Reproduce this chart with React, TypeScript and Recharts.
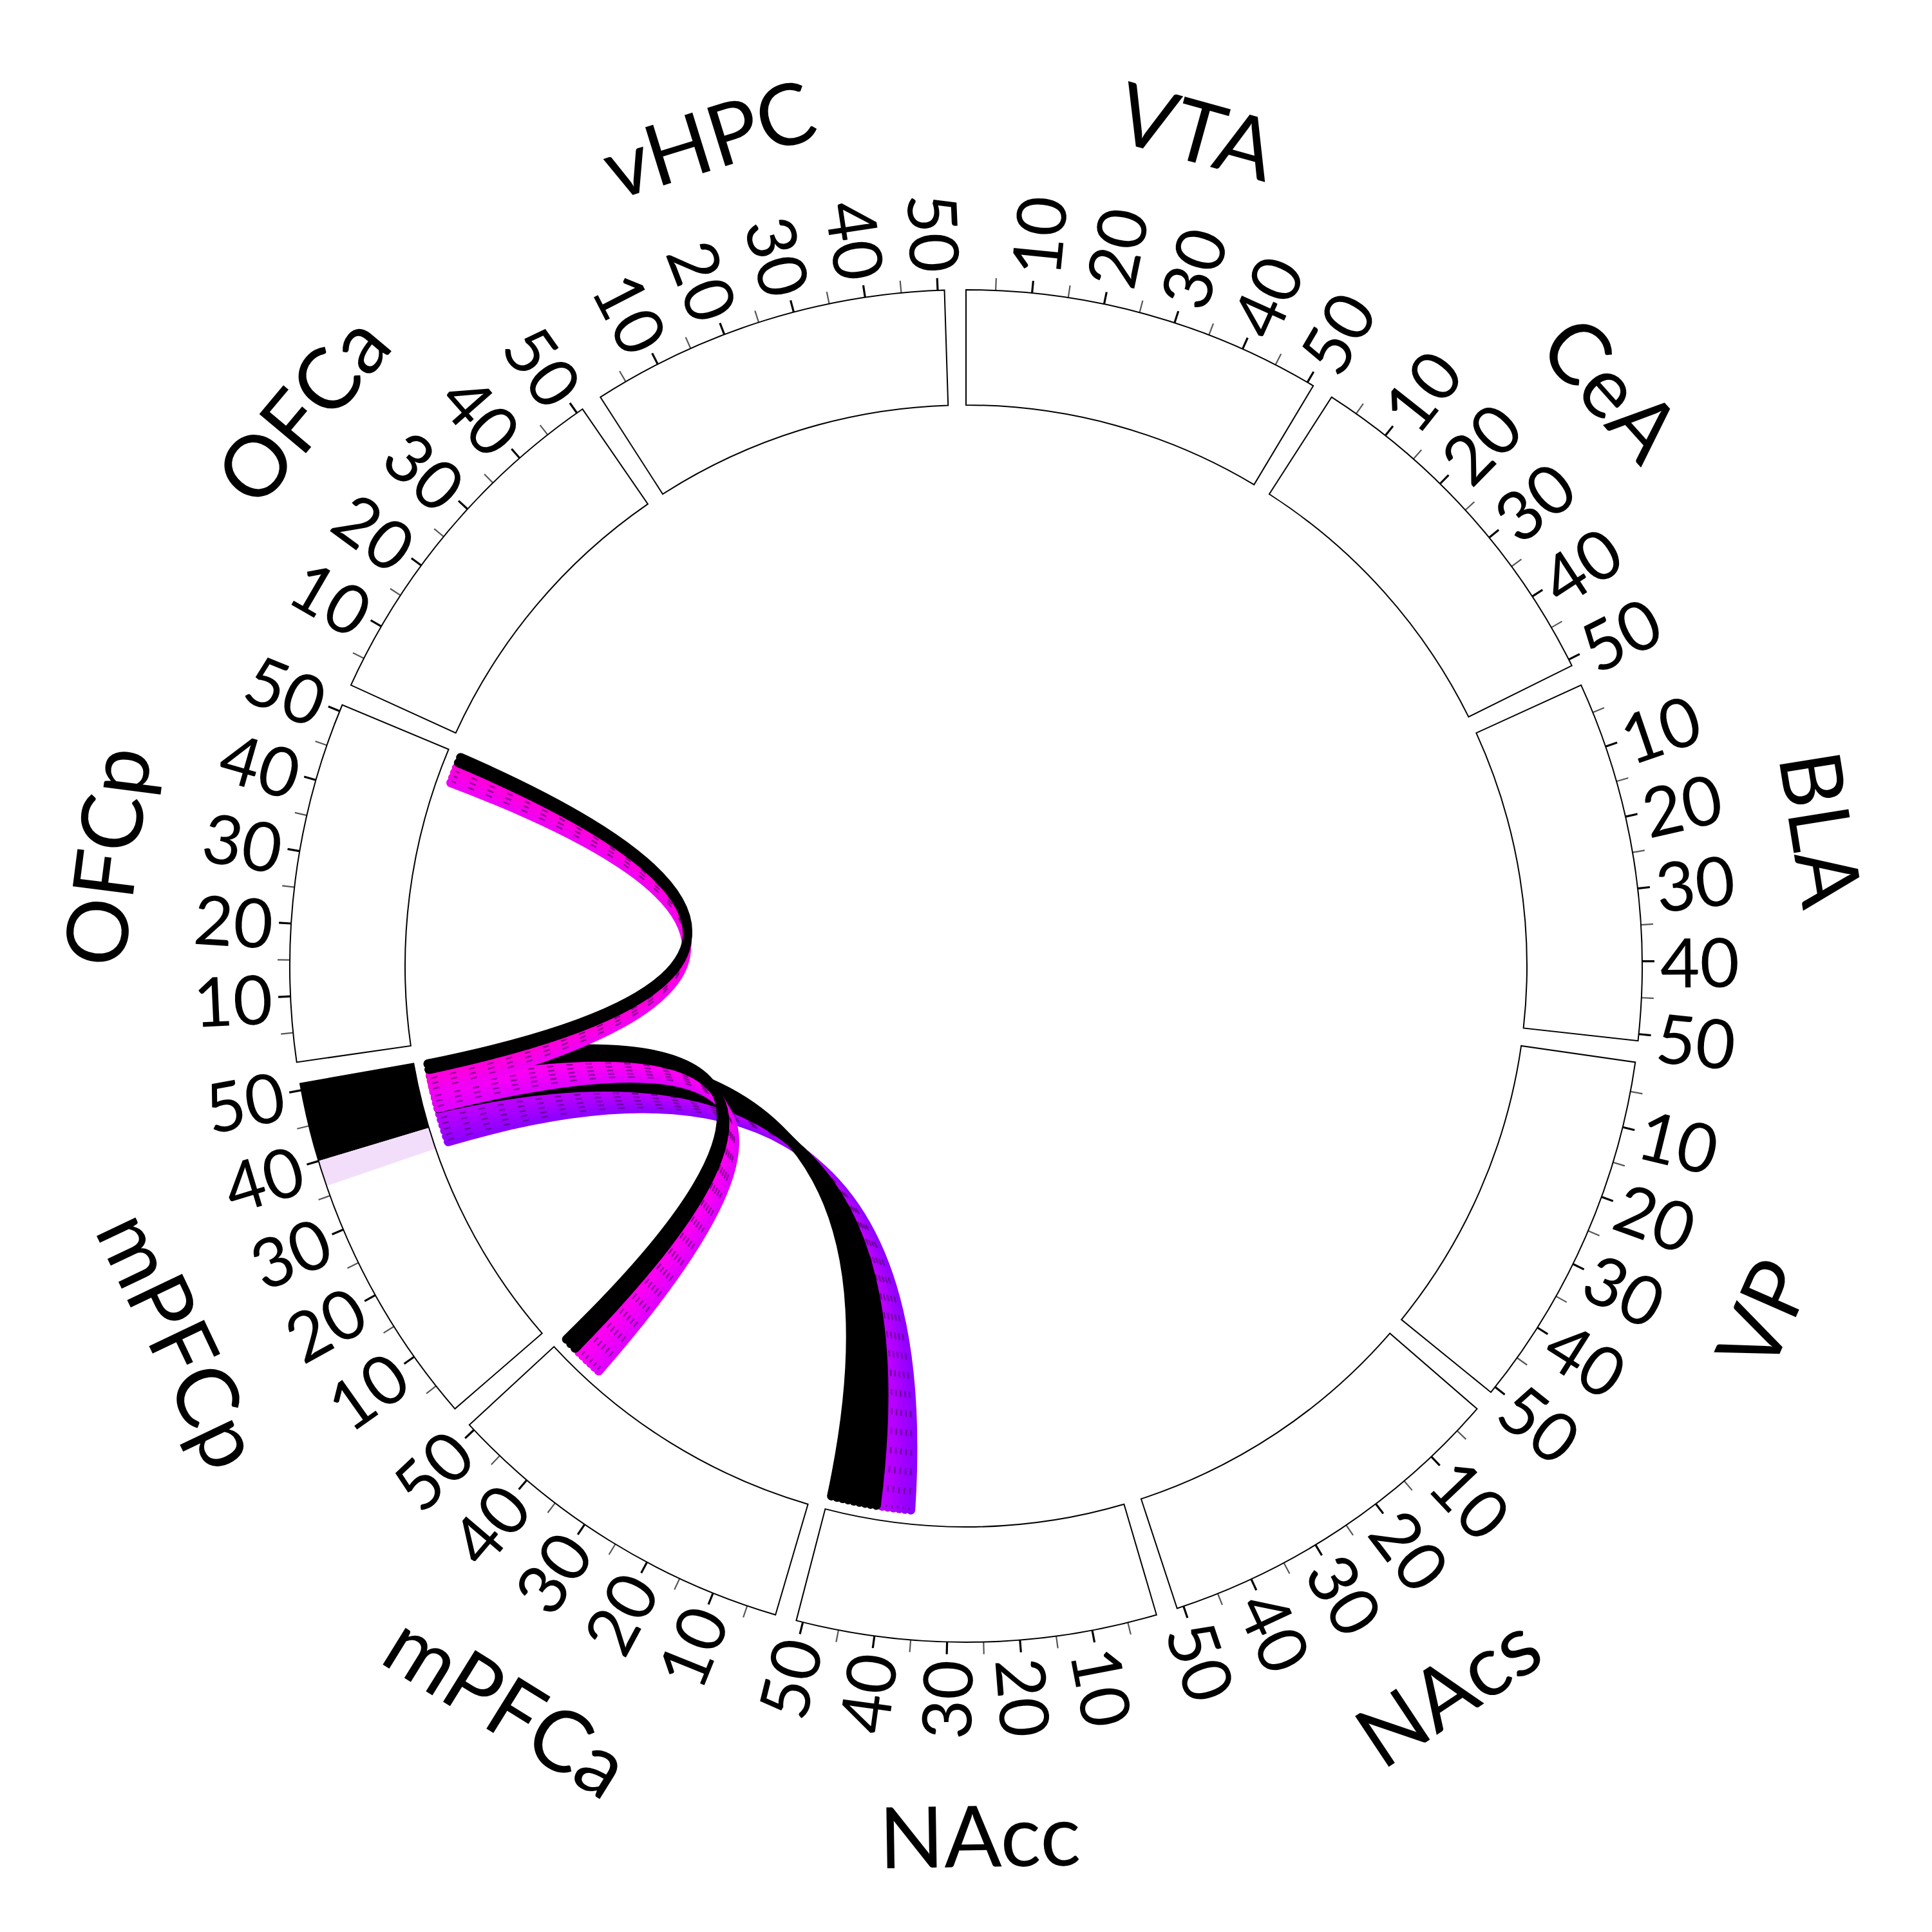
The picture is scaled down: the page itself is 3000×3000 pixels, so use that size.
import React from 'react';
import { PieChart, Pie, Cell, Sector, Customized } from 'recharts';

// ---------------- data ----------------
const SECTORS = ['VTA', 'CeA', 'BLA', 'VP', 'NAcs', 'NAcc', 'mPFCa', 'mPFCp', 'OFCp', 'OFCa', 'vHPC'];
const SECTOR_SIZE = [50, 50, 50, 50, 50, 50, 50, 50, 50, 50, 50];
const SECTOR_START = 0.93; // axis value at each sector's leading edge
const MAJOR_TICKS = [10, 20, 30, 40, 50];
const MINOR_TICKS = [5, 15, 25, 35, 45];

const HIGHLIGHT_SECTOR = ['mPFCp', 'mPFCp'];
const HIGHLIGHT_FROM = [40, 36.4];
const HIGHLIGHT_TO = [50.93, 40];
const HIGHLIGHT_COLOR = ['#000000', '#f2defb'];

const LINK_SOURCE = 'mPFCp';
const LINK_TARGETS = ['NAcc', 'mPFCa', 'OFCp'];
const LINK_FROM = [36.3, 42.3, 45.4];
const LINK_SPLIT = [42.2, 47.8, 49.0];
const LINK_TO = [50.93, 50.93, 50.93];
const LINK_COLOR_LO = ['#8e00ff', '#e000ff', '#f000f5'];
const LINK_COLOR_HI = ['#bc00ff', '#ff00f2', '#ff00dc'];

// ---------------- geometry ----------------
const W = 3000;
const CX = 1500;
const CY = 1500;
const R_OUT = 1050;
const R_IN = 871;
const R_LINK = 849;
const STEP = 360 / SECTORS.length;
const SPAN = 30.9;
const PAD = STEP - SPAN;
const DEG_PER_UNIT = SPAN / 50;
const FONT = 'Lato, "DejaVu Sans", sans-serif';

const theta = (idx: number, v: number) => idx * STEP + (v - SECTOR_START) * DEG_PER_UNIT;
const toXY = (t: number, r: number) => {
  const a = (t * Math.PI) / 180;
  return [CX + r * Math.sin(a), CY - r * Math.cos(a)];
};
const norm = (t: number) => ((t % 360) + 360) % 360;

const hexToRgb = (h: string) => [parseInt(h.slice(1, 3), 16), parseInt(h.slice(3, 5), 16), parseInt(h.slice(5, 7), 16)];
const mix = (a: string, b: string, f: number) => {
  const A = hexToRgb(a);
  const B = hexToRgb(b);
  const c = A.map((x, i) => Math.round(x + (B[i] - x) * f));
  return `rgb(${c[0]},${c[1]},${c[2]})`;
};

const linePath = (ts: number, tt: number) => {
  const [x0, y0] = toXY(ts, R_LINK);
  const [x2, y2] = toXY(tt, R_LINK);
  const mx = (x0 + x2) / 2 - CX;
  const my = (y0 + y2) / 2 - CY;
  const len = Math.hypot(mx, my) || 1;
  const cOff = 55;
  const cx = CX + (mx / len) * cOff;
  const cy = CY + (my / len) * cOff;
  return `M${x0.toFixed(2)},${y0.toFixed(2)} Q${cx.toFixed(2)},${cy.toFixed(2)} ${x2.toFixed(2)},${y2.toFixed(2)}`;
};

const positions = (a: number, b: number) => {
  const count = Math.max(1, Math.round((b - a) / 0.95));
  const out: number[] = [];
  for (let k = 0; k < count; k++) out.push(a + ((k + 0.5) * (b - a)) / count);
  return out;
};

const HighlightLayer = () => (
  <g>
    {HIGHLIGHT_SECTOR.map((name, i) => {
      const idx = SECTORS.indexOf(name);
      const a = theta(idx, HIGHLIGHT_FROM[i]);
      const b = theta(idx, HIGHLIGHT_TO[i]);
      return (
        <Sector
          key={`hl${i}`}
          cx={CX}
          cy={CY}
          innerRadius={R_IN}
          outerRadius={R_OUT}
          startAngle={90 - a}
          endAngle={90 - b}
          fill={HIGHLIGHT_COLOR[i]}
          stroke="none"
        />
      );
    })}
  </g>
);

const ChordLayer = () => {
  const elems: React.ReactNode[] = [];

  // ticks and tick labels
  SECTORS.forEach((name, idx) => {
    MINOR_TICKS.forEach((v) => {
      const t = theta(idx, v);
      const [x1, y1] = toXY(t, R_OUT);
      const [x2, y2] = toXY(t, R_OUT + 19);
      elems.push(<line key={`mi${idx}-${v}`} x1={x1} y1={y1} x2={x2} y2={y2} stroke="#555" strokeWidth={2.2} />);
    });
    MAJOR_TICKS.forEach((v) => {
      const t = theta(idx, v);
      const [x1, y1] = toXY(t, R_OUT);
      const [x2, y2] = toXY(t, R_OUT + 19);
      elems.push(<line key={`ma${idx}-${v}`} x1={x1} y1={y1} x2={x2} y2={y2} stroke="#000" strokeWidth={3.2} />);
      const tn = norm(t);
      const right = tn > 0 && tn < 180;
      const rot = right ? tn - 90 : tn - 270;
      const [lx, ly] = toXY(t, 1078);
      elems.push(
        <text
          key={`tl${idx}-${v}`}
          x={lx}
          y={ly}
          transform={`rotate(${rot.toFixed(2)}, ${lx.toFixed(2)}, ${ly.toFixed(2)})`}
          textAnchor={right ? 'start' : 'end'}
          dominantBaseline="central"
          fontSize={106}
          fontFamily={FONT}
          fill="#000"
        >
          {v}
        </text>
      );
    });
    // sector name
    const tc = norm(theta(idx, SECTOR_START + SECTOR_SIZE[idx] / 2));
    const top = Math.cos((tc * Math.PI) / 180) >= 0;
    const rot = top ? (tc > 180 ? tc - 360 : tc) : tc - 180;
    const [nx, ny] = toXY(tc, 1348);
    elems.push(
      <text
        key={`name${idx}`}
        x={nx}
        y={ny}
        transform={`rotate(${rot.toFixed(2)}, ${nx.toFixed(2)}, ${ny.toFixed(2)})`}
        textAnchor="middle"
        dominantBaseline="central"
        fontSize={132}
        fontFamily={FONT}
        fill="#000"
      >
        {name}
      </text>
    );
  });

  // links: bundles of thick bezier lines
  const s = SECTORS.indexOf(LINK_SOURCE);
  LINK_TARGETS.forEach((tname, j) => {
    const t = SECTORS.indexOf(tname);
    const colored = positions(LINK_FROM[j], LINK_SPLIT[j]);
    const black = positions(LINK_SPLIT[j], LINK_TO[j]);
    colored.forEach((v, k) => {
      const f = colored.length > 1 ? k / (colored.length - 1) : 0.5;
      elems.push(
        <path
          key={`lc${j}-${k}`}
          d={linePath(theta(s, v), theta(t, v))}
          fill="none"
          stroke={mix(LINK_COLOR_LO[j], LINK_COLOR_HI[j], f)}
          strokeWidth={14}
          strokeLinecap="round"
        />
      );
    });
    colored.forEach((v, k) => {
      elems.push(
        <path
          key={`ld${j}-${k}`}
          d={linePath(theta(s, v + 0.3), theta(t, v + 0.3))}
          fill="none"
          stroke="#4a0060"
          strokeOpacity={0.6}
          strokeWidth={2.5}
          strokeDasharray="10 20"
        />
      );
    });
    black.forEach((v, k) => {
      elems.push(
        <path
          key={`lb${j}-${k}`}
          d={linePath(theta(s, v), theta(t, v))}
          fill="none"
          stroke="#000"
          strokeWidth={14}
          strokeLinecap="round"
        />
      );
    });
  });

  return <g>{elems}</g>;
};

const sectorData = SECTORS.map((name, i) => ({ name, value: SECTOR_SIZE[i] }));

export default function App() {
  return (
    <div style={{ position: 'absolute', left: 0, top: 0, width: W, height: W, background: '#fff' }}>
      <PieChart width={W} height={W} margin={{ top: 0, right: 0, bottom: 0, left: 0 }}>
        <Customized component={HighlightLayer} />
        <Pie
          data={sectorData}
          dataKey="value"
          nameKey="name"
          cx={CX}
          cy={CY}
          innerRadius={R_IN}
          outerRadius={R_OUT}
          startAngle={90}
          endAngle={-270}
          paddingAngle={PAD}
          isAnimationActive={false}
          label={false}
          labelLine={false}
        >
          {sectorData.map((d) => (
            <Cell key={d.name} fill="none" stroke="#000000" strokeWidth={2} />
          ))}
        </Pie>
        <Customized component={ChordLayer} />
      </PieChart>
    </div>
  );
}
